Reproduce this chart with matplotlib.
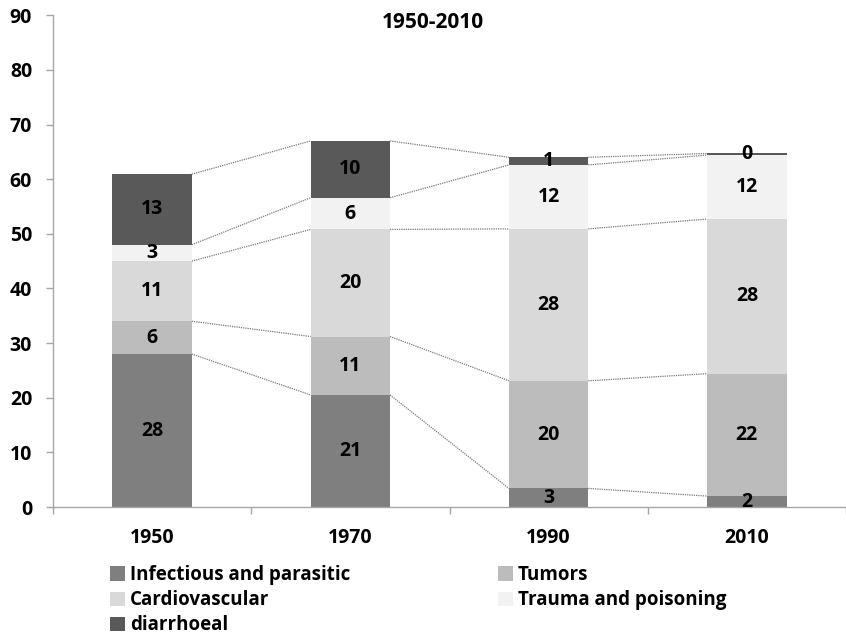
import matplotlib
matplotlib.use("Agg")
import matplotlib.pyplot as plt
import numpy as np
from matplotlib.patches import Patch

plt.rcParams['font.family'] = ['Open Sans', 'DejaVu Sans']
plt.rcParams['font.weight'] = 'bold'

years = ['1950', '1970', '1990', '2010']
series_names = ['Infectious and parasitic', 'Tumors', 'Cardiovascular',
                'Trauma and poisoning', 'diarrhoeal']
infectious = [28.0, 20.5, 3.4, 2.0]
tumors = [6.0, 10.7, 19.7, 22.4]
cardiovascular = [11.0, 19.6, 27.8, 28.3]
trauma = [3.0, 5.8, 11.7, 11.7]
diarrhoeal = [12.9, 10.4, 1.4, 0.3]
colors = ['#7f7f7f', '#bcbcbc', '#d9d9d9', '#f2f2f2', '#595959']
title = '1950-2010'
yticks = list(range(0, 100, 10))

data = [infectious, tumors, cardiovascular, trauma, diarrhoeal]

fig = plt.figure(figsize=(8.46, 6.34), dpi=100)
ax = fig.add_axes([53/846, 0.2003, 1 - 53/846, 0.976 - 0.2003])

x = np.arange(len(years))
width = 0.4
bottom = np.zeros(len(years))
tops = []
for vals, col, name in zip(data, colors, series_names):
    v = np.array(vals)
    bars = ax.bar(x, v, width, bottom=bottom, color=col, label=name, zorder=2)
    labels = [f'{int(np.floor(val + 0.5)):d}' for val in v]
    ax.bar_label(bars, labels=labels, label_type='center', fontsize=14,
                 fontweight='bold', color='black')
    bottom = bottom + v
    tops.append(bottom.copy())

# series connector lines
for t in tops:
    for i in range(len(years) - 1):
        ax.plot([x[i] + width/2, x[i+1] - width/2], [t[i], t[i+1]],
                color='#7a7a7a', lw=0.9, ls=(0, (1, 0.8)), zorder=1)

ax.set_xlim(-0.5, len(years) - 0.5)
ax.set_ylim(0, 90)
ax.set_yticks(yticks)
ax.set_xticks(x)
ax.set_xticklabels(years)
ax.set_xticks(np.arange(-0.5, len(years)), minor=True)
ax.tick_params(axis='x', which='major', length=0, pad=15, labelsize=14)
ax.tick_params(axis='x', which='minor', length=5, color='#a6a6a6', width=1)
ax.tick_params(axis='y', which='major', length=5, color='#a6a6a6', width=1,
               pad=10, labelsize=14)
for lab in ax.get_xticklabels() + ax.get_yticklabels():
    lab.set_fontweight('bold')

for s in ['top', 'right']:
    ax.spines[s].set_visible(False)
for s in ['left', 'bottom']:
    ax.spines[s].set_color('#a6a6a6')
    ax.spines[s].set_linewidth(1)

fig.text(433/846, 1 - 22/634, title, ha='center', va='center',
         fontsize=15, fontweight='bold')

handles = [Patch(facecolor=c, edgecolor='none', label=n)
           for c, n in zip(colors, series_names)]
# row-major order for a 2-column legend
order = [0, 2, 4, 1, 3]
leg = fig.legend(handles=[handles[i] for i in order], ncol=2, loc='upper left',
                 bbox_to_anchor=(110/846, 1 - 565/634), frameon=False,
                 fontsize=13.5, handlelength=0.8, handleheight=0.8,
                 handletextpad=0.25, columnspacing=7.9, labelspacing=0.28,
                 borderpad=0, borderaxespad=0)
for t in leg.get_texts():
    t.set_fontweight('bold')

fig.savefig('out.png', dpi=100)
